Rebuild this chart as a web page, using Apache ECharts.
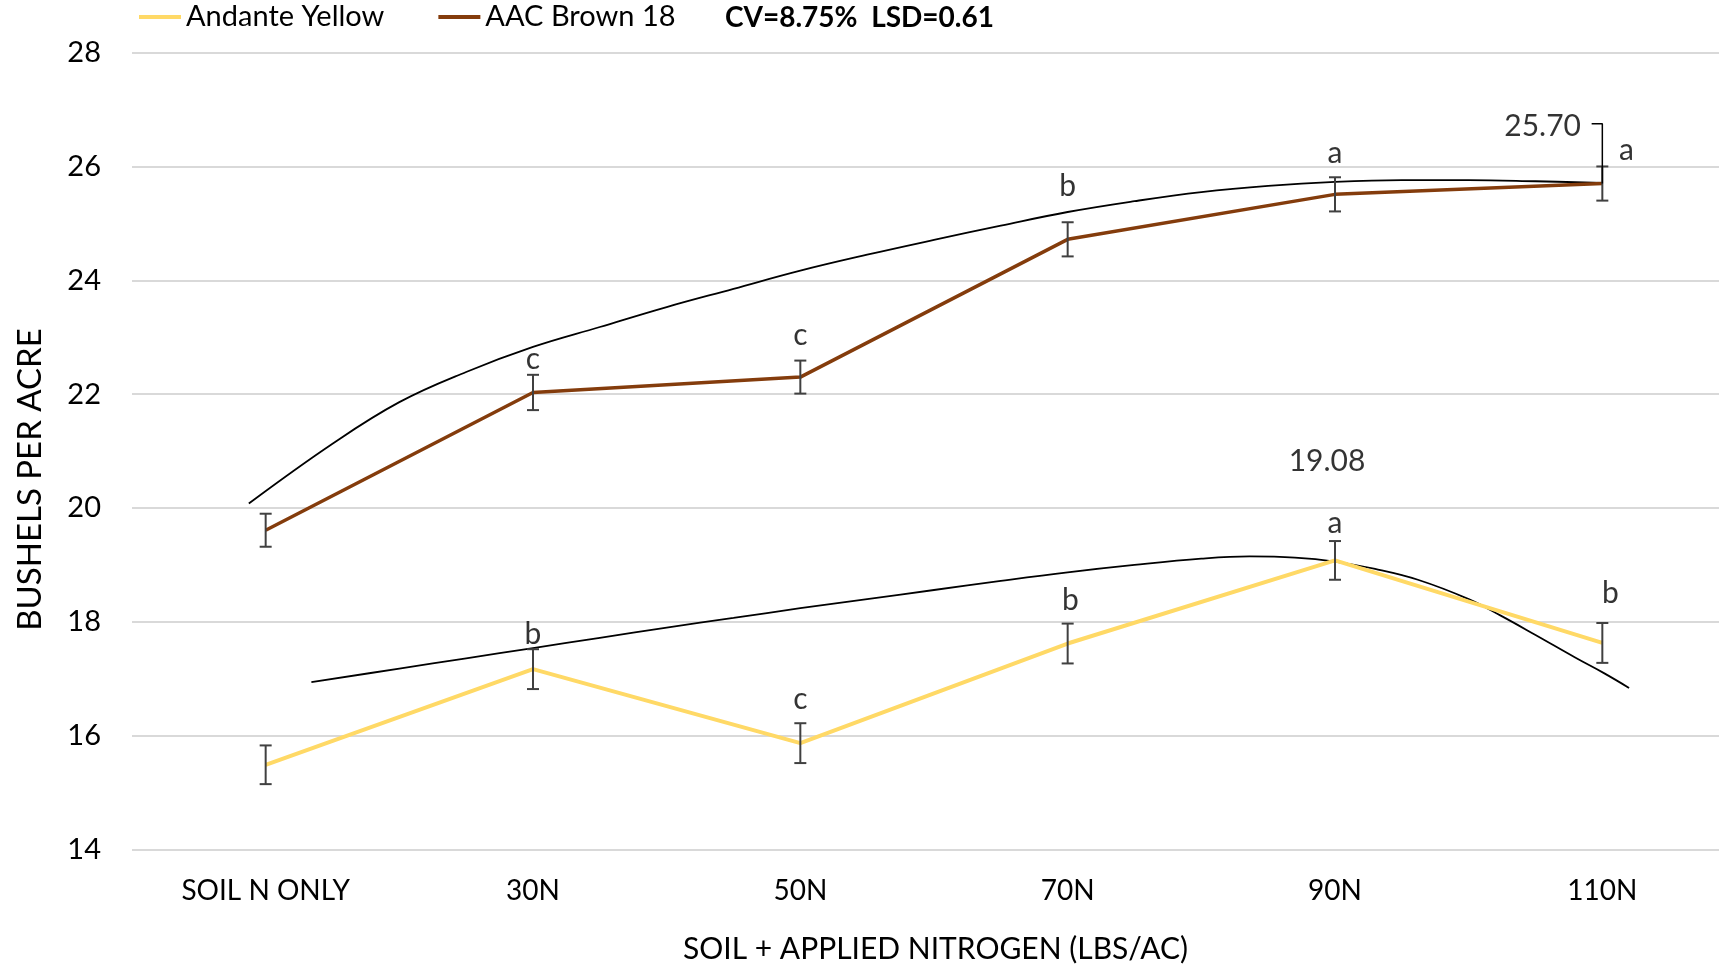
<!DOCTYPE html>
<html>
<head>
<meta charset="utf-8">
<script src="https://cdn.jsdelivr.net/npm/echarts@6/dist/echarts.min.js"></script>
<style>html,body{margin:0;padding:0;background:#fff}#c{width:1719px;height:967px}</style>
</head>
<body>
<div id="c"></div>
<script>
const categories = ['SOIL N ONLY', '30N', '50N', '70N', '90N', '110N'];
const yellowValues = [15.49, 17.17, 15.87, 17.62, 19.08, 17.63];
const brownValues = [19.61, 22.03, 22.30, 24.72, 25.51, 25.70];
const yellowErr = [0.34, 0.35, 0.35, 0.35, 0.34, 0.35];
const brownErr = [0.29, 0.31, 0.29, 0.30, 0.30, 0.30];
const yTicks = { min: 14, max: 28, interval: 2 };
// polynomial trend lines: [category position, value]
const brownTrend = [[-0.063, 20.08], [0.25, 21.13], [0.5, 21.86], [0.75, 22.39], [1.0, 22.83], [1.25, 23.18], [1.5, 23.53], [1.75, 23.85], [2.0, 24.17], [2.25, 24.45], [2.5, 24.71], [2.75, 24.96], [3.0, 25.20], [3.25, 25.39], [3.5, 25.55], [3.75, 25.66], [4.0, 25.73], [4.25, 25.76], [4.5, 25.76], [4.75, 25.74], [5.0, 25.71]];
const yellowTrend = [[0.171, 16.94], [0.5, 17.18], [0.75, 17.36], [1.0, 17.54], [1.25, 17.72], [1.5, 17.90], [1.75, 18.07], [2.0, 18.24], [2.25, 18.40], [2.5, 18.56], [2.75, 18.72], [3.0, 18.87], [3.25, 19.00], [3.5, 19.11], [3.68, 19.15], [3.85, 19.13], [4.0, 19.06], [4.15, 18.93], [4.31, 18.74], [4.5, 18.40], [4.62, 18.11], [4.75, 17.77], [4.9, 17.37], [5.006, 17.10], [5.1, 16.84]];
// significance letters: [position, value, letter]
const brownLetters = [[1.0, 22.61, 'c'], [2.0, 23.03, 'c'], [3.0, 25.65, 'b'], [4.0, 26.23, 'a'], [5.09, 26.29, 'a']];
const yellowLetters = [[1.0, 17.79, 'b'], [2.0, 16.64, 'c'], [3.01, 18.37, 'b'], [4.0, 19.74, 'a'], [5.03, 18.51, 'b']];
const valueNotes = [[4.92, 26.70, '25.70', 'right'], [3.97, 20.82, '19.08', 'center']];
const callout = [[4.96, 26.75], [5.0, 26.75], [5.0, 25.70]];
const legendNames = ['Andante Yellow', 'AAC Brown 18'];
const statsText = 'CV=8.75%  LSD=0.61';
const xTitle = 'SOIL + APPLIED NITROGEN (LBS/AC)';
const yTitle = 'BUSHELS PER ACRE';

const FONT = 'Lato';
const chart = echarts.init(document.getElementById('c'), null, { renderer: 'canvas' });

function errData(vals, errs) {
  return vals.map((v, i) => [i, v - errs[i], v + errs[i]]);
}
function errRender(params, api) {
  const x = api.value(0);
  const lo = api.coord([x, api.value(1)]);
  const hi = api.coord([x, api.value(2)]);
  const w = 6;
  const st = { stroke: '#404040', lineWidth: 2 };
  return {
    type: 'group',
    children: [
      { type: 'line', shape: { x1: lo[0], y1: lo[1], x2: hi[0], y2: hi[1] }, style: st },
      { type: 'line', shape: { x1: lo[0] - w, y1: lo[1], x2: lo[0] + w, y2: lo[1] }, style: st },
      { type: 'line', shape: { x1: hi[0] - w, y1: hi[1], x2: hi[0] + w, y2: hi[1] }, style: st }
    ]
  };
}
const textLabel = {
  show: true, position: 'inside', color: '#000', fontFamily: FONT, fontSize: 30,
  formatter: p => p.value[2]
};

const option = {
  animation: false,
  backgroundColor: '#fff',
  textStyle: { fontFamily: FONT },
  grid: { left: 132, width: 1604, top: 52.6, bottom: 117.4, containLabel: false, outerBoundsMode: 'none' },
  legend: {
    data: legendNames, left: 139, top: 2, padding: 0,
    icon: 'rect', itemWidth: 42, itemHeight: 4, itemGap: 54,
    textStyle: { fontFamily: FONT, fontSize: 29, color: '#000', lineHeight: 30, padding: [0, 0, 0, 0] }
  },
  xAxis: [
    {
      type: 'category', data: categories, boundaryGap: true,
      axisLine: { show: false }, axisTick: { show: false }, splitLine: { show: false },
      axisLabel: { fontFamily: FONT, fontSize: 28, color: '#000', margin: 26, lineHeight: 30, interval: 0 }
    },
    { type: 'value', min: -0.5, max: 5.5, show: false }
  ],
  yAxis: {
    type: 'value', min: yTicks.min, max: yTicks.max, interval: yTicks.interval,
    axisLine: { show: false }, axisTick: { show: false },
    splitLine: { show: true, lineStyle: { color: '#d9d9d9', width: 2 } },
    axisLabel: { fontFamily: FONT, fontSize: 29, color: '#000', margin: 31 }
  },
  graphic: [
    { type: 'text', x: 725, y: 18, style: { text: statsText, fontFamily: FONT, fontSize: 28, fontWeight: 'bold', fill: '#000', align: 'left', verticalAlign: 'middle' } },
    { type: 'text', x: 935.5, y: 949, style: { text: xTitle, fontFamily: FONT, fontSize: 30, fill: '#000', align: 'center', verticalAlign: 'middle' } },
    { type: 'text', x: 30, y: 479.5, rotation: Math.PI / 2, style: { text: yTitle, fontFamily: FONT, fontSize: 33, fill: '#000', align: 'center', verticalAlign: 'middle' } }
  ],
  series: [
    { name: 'brownTrend', type: 'line', xAxisIndex: 1, data: brownTrend, smooth: 0.4, symbol: 'none', lineStyle: { color: '#000', width: 1.8 }, itemStyle: { color: '#000' }, z: 2, silent: true },
    { name: 'yellowTrend', type: 'line', xAxisIndex: 1, data: yellowTrend, smooth: 0.4, symbol: 'none', lineStyle: { color: '#000', width: 1.8 }, itemStyle: { color: '#000' }, z: 2, silent: true },
    { name: 'Andante Yellow', type: 'line', xAxisIndex: 0, data: yellowValues, symbol: 'none', lineStyle: { color: '#FFD966', width: 4 }, itemStyle: { color: '#FFD966' }, z: 3 },
    { name: 'AAC Brown 18', type: 'line', xAxisIndex: 0, data: brownValues, symbol: 'none', lineStyle: { color: '#843C0C', width: 3.5 }, itemStyle: { color: '#843C0C' }, z: 3 },
    { name: 'yellowErr', type: 'custom', xAxisIndex: 0, data: errData(yellowValues, yellowErr), renderItem: errRender, z: 4, silent: true },
    { name: 'brownErr', type: 'custom', xAxisIndex: 0, data: errData(brownValues, brownErr), renderItem: errRender, z: 4, silent: true },
    { name: 'letters', type: 'scatter', xAxisIndex: 1, data: brownLetters.concat(yellowLetters), symbolSize: 0, label: textLabel, z: 5, silent: true },
    { name: 'notes', type: 'scatter', xAxisIndex: 1, symbolSize: 0, z: 5, silent: true,
      data: valueNotes.map(n => ({ value: [n[0], n[1], n[2]], label: { align: n[3], position: n[3] === 'right' ? 'left' : 'inside', distance: 0 } })),
      label: { show: true, color: '#000', fontFamily: FONT, fontSize: 30, formatter: p => p.value[2] } },
    { name: 'callout', type: 'line', xAxisIndex: 1, data: callout, symbol: 'none', lineStyle: { color: '#000', width: 1.5 }, z: 5, silent: true }
  ]
};
chart.setOption(option);
</script>
</body>
</html>
